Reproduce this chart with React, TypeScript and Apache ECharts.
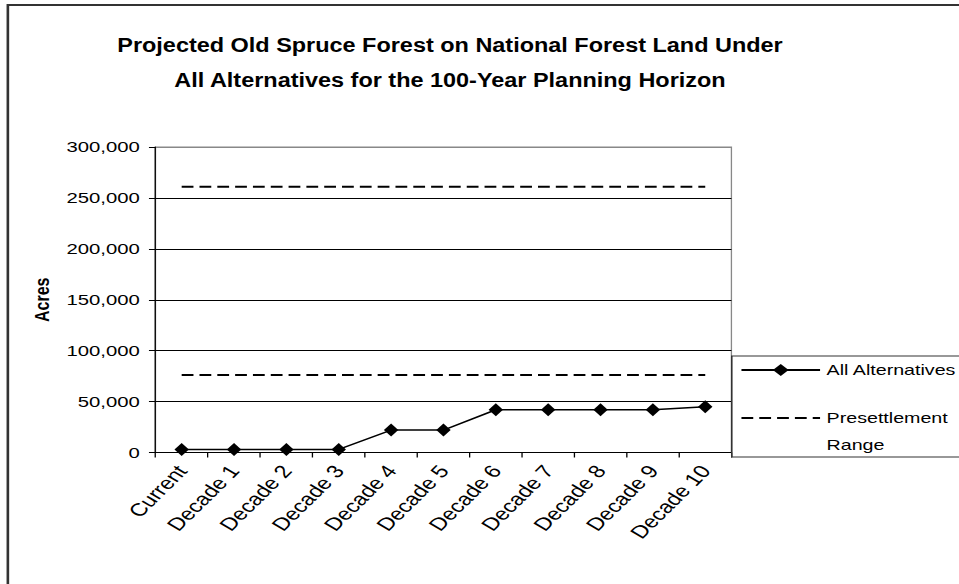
import React, { useEffect, useRef } from 'react';
import * as echarts from 'echarts';

const categories = ['Current', 'Decade 1', 'Decade 2', 'Decade 3', 'Decade 4', 'Decade 5', 'Decade 6', 'Decade 7', 'Decade 8', 'Decade 9', 'Decade 10'];
const allAlternatives = [3000, 3000, 3000, 3000, 22000, 22000, 42000, 42000, 42000, 42000, 45000];
const presettlementLow = [76000, 76000, 76000, 76000, 76000, 76000, 76000, 76000, 76000, 76000, 76000];
const presettlementHigh = [261000, 261000, 261000, 261000, 261000, 261000, 261000, 261000, 261000, 261000, 261000];
const yMin = 0;
const yMax = 300000;
const yInterval = 50000;

const titleText = 'Projected Old Spruce Forest on National Forest Land Under\nAll Alternatives for the 100-Year Planning Horizon';
const yAxisName = 'Acres';
const seriesNames = ['All Alternatives', 'Presettlement Range'];

const SX = 1.31;
const H = 584;
const W = 959 / SX;
const FONT = '"Liberation Sans", Arial, sans-serif';

export default function App() {
  const ref = useRef<HTMLDivElement>(null);
  useEffect(() => {
    document.body.style.margin = '0';
    document.body.style.overflow = 'hidden';
    const chart = echarts.init(ref.current!, undefined, { renderer: 'svg' });
    const dash = [9, 4.6];
    chart.setOption({
      animation: false,
      backgroundColor: '#fff',
      textStyle: { fontFamily: FONT, color: '#000' },
      grid: {
        left: 118.7,
        right: W - 558.4,
        top: 147,
        bottom: H - 452.5,
        show: true,
        borderColor: '#888',
        borderWidth: 1,
        containLabel: false,
      },
      legend: {
        orient: 'vertical',
        left: 565,
        top: 362.5,
        padding: 0,
        itemGap: 0,
        itemWidth: 60,
        itemHeight: 15,
        textStyle: { fontSize: 15, lineHeight: 15, color: '#000', fontFamily: FONT },
        formatter: (name: string) => (name === 'Presettlement Range' ? '\nPresettlement\nRange' : name),
        data: [
          { name: seriesNames[0] },
          { name: seriesNames[1], itemStyle: { opacity: 0 }, textStyle: { lineHeight: 27 } },
        ],
      },
      xAxis: {
        type: 'category',
        data: categories,
        boundaryGap: true,
        axisLine: { lineStyle: { color: '#000', width: 1 } },
        axisTick: { show: true, length: 5, inside: false, interval: 0, lineStyle: { color: '#000' } },
        axisLabel: { interval: 0, rotate: 52, margin: 15, fontSize: 18, color: '#000', fontFamily: FONT },
        splitLine: { show: false },
      },
      yAxis: {
        type: 'value',
        min: yMin,
        max: yMax,
        interval: yInterval,
        name: yAxisName,
        nameLocation: 'middle',
        nameGap: 76,
        nameTextStyle: { fontSize: 16, fontWeight: 'bold', color: '#000', fontFamily: FONT },
        axisLine: { show: true, lineStyle: { color: '#000', width: 1 } },
        axisTick: { show: true, length: 5, lineStyle: { color: '#000' } },
        axisLabel: {
          margin: 12,
          fontSize: 15.5,
          color: '#000',
          fontFamily: FONT,
          formatter: (v: number) => v.toLocaleString('en-US'),
        },
        splitLine: {
          show: true,
          lineStyle: { color: ['#000', '#000', '#000', '#000', '#000', '#000', '#888'], width: 1 },
        },
      },
      graphic: [
        {
          type: 'rect',
          z: -10,
          shape: { x: 6, y: 5, width: 900, height: 900 },
          style: { fill: 'none', stroke: '#333', lineWidth: 2 },
        },
        {
          type: 'rect',
          z: 10,
          shape: { x: 558.6, y: 356, width: 300, height: 101 },
          style: { fill: 'none', stroke: '#333', lineWidth: 1.2 },
        },
        {
          type: 'text',
          x: 343.5,
          y: 28,
          scaleX: 0.895,
          style: {
            text: titleText,
            fontSize: 20,
            fontWeight: 'bold',
            fontFamily: FONT,
            lineHeight: 35,
            align: 'center',
            verticalAlign: 'top',
            fill: '#000',
          },
        },
      ],
      series: [
        {
          name: seriesNames[0],
          type: 'line',
          data: allAlternatives,
          symbol: 'diamond',
          symbolSize: [11, 13],
          showSymbol: true,
          lineStyle: { color: '#000', width: 1.5 },
          itemStyle: { color: '#000' },
          z: 5,
        },
        {
          name: seriesNames[1],
          type: 'line',
          data: presettlementHigh,
          symbol: 'none',
          lineStyle: { color: '#000', width: 2, type: dash },
          itemStyle: { color: '#000' },
        },
        {
          name: seriesNames[1],
          type: 'line',
          data: presettlementLow,
          symbol: 'none',
          lineStyle: { color: '#000', width: 2, type: dash },
          itemStyle: { color: '#000' },
        },
      ],
    });
    return () => chart.dispose();
  }, []);
  return (
    <div
      style={{
        position: 'fixed',
        left: 0,
        top: 0,
        width: 959,
        height: H,
        overflow: 'hidden',
        background: '#fff',
      }}
    >
      <div
        ref={ref}
        style={{
          width: W,
          height: H,
          transform: `scaleX(${SX})`,
          transformOrigin: '0 0',
        }}
      />
    </div>
  );
}
